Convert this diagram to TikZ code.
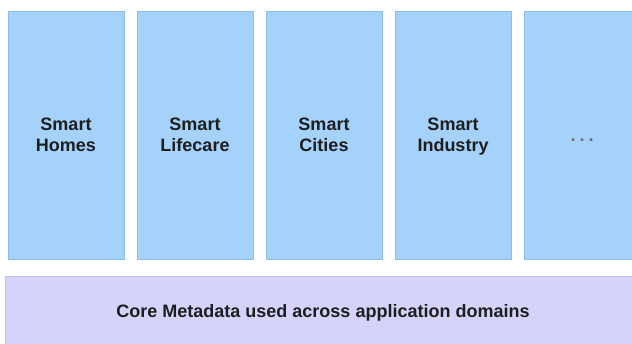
\documentclass[tikz,border=0pt]{standalone}
\usepackage{fontspec}
\setmainfont{Liberation Sans}
\usepackage{xcolor}
\usepackage{tikz}
\usetikzlibrary{positioning}
\definecolor{domainblue}{HTML}{A4D2FB}
\definecolor{domainedge}{HTML}{8CBDEB}
\definecolor{corelav}{HTML}{D5D3FB}
\definecolor{coreedge}{HTML}{B9C3EE}
\definecolor{ink}{HTML}{1E1E1E}
% second line sits on the baseline, no descender counted
\newcommand{\twolines}[2]{#1\\\smash{#2}}
\tikzset{
  domainbox/.style = {rectangle, draw=domainedge, fill=domainblue, line width=0.6pt,
                      minimum width=116pt, minimum height=248pt, inner sep=0pt,
                      align=center, text=ink, font=\fontsize{18}{21}\selectfont\bfseries},
  corebox/.style   = {rectangle, draw=coreedge, fill=corelav, line width=0.6pt,
                      minimum width=635pt, minimum height=74pt, inner sep=0pt,
                      text=ink, font=\fontsize{18}{21}\selectfont\bfseries},
}

\begin{document}
\begin{tikzpicture}[x=1pt, y=1pt, node distance=12.4pt]
  \useasboundingbox (0,0) rectangle (632,344);
  % one column per application domain
  \node[domainbox] (homes) at (66,209) {\twolines{Smart}{Homes}};
  \node[domainbox, right=of homes] (lifecare) {\twolines{Smart}{Lifecare}};
  \node[domainbox, right=of lifecare] (cities) {\twolines{Smart}{Cities}};
  \node[domainbox, right=of cities] (industry) {\twolines{Smart}{Industry}};
  \node[domainbox, right=of industry] (more)
    {\vphantom{S}\textcolor{ink!65}{.\hspace{4pt}.\hspace{4pt}.}};
  % shared layer underneath
  \node[corebox] (meta) at (323,31) {Core Metadata used across application domains};
\end{tikzpicture}
\end{document}
